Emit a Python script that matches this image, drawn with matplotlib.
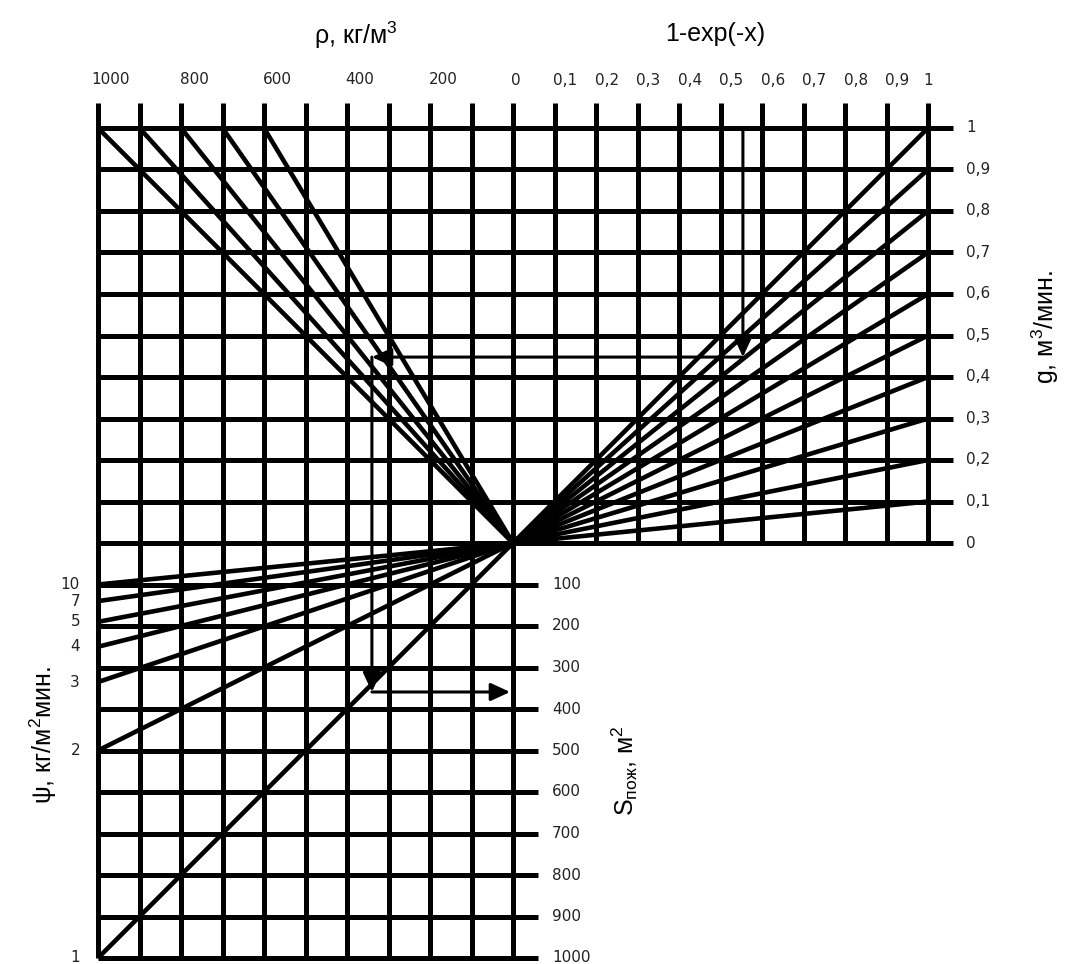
import matplotlib
matplotlib.use('Agg')
import matplotlib.pyplot as plt

plt.rcParams['font.family'] = ['Liberation Sans', 'DejaVu Sans']
plt.rcParams['mathtext.fontset'] = 'custom'
plt.rcParams['mathtext.rm'] = 'Liberation Sans'
plt.rcParams['mathtext.it'] = 'Liberation Sans:italic'
plt.rcParams['mathtext.bf'] = 'Liberation Sans:bold'

# ---------------- data ----------------
rho_ticks = [1000, 800, 600, 400, 200, 0]
rho_grid = [1000, 900, 800, 700, 600, 500, 400, 300, 200, 100, 0]
rho_lines = [1000, 900, 800, 700, 600]          # lines to g = 1

exp_grid = [0, 0.1, 0.2, 0.3, 0.4, 0.5, 0.6, 0.7, 0.8, 0.9, 1.0]
exp_labels = ['0', '0,1', '0,2', '0,3', '0,4', '0,5', '0,6', '0,7', '0,8', '0,9', '1']

g_grid = [0, 0.1, 0.2, 0.3, 0.4, 0.5, 0.6, 0.7, 0.8, 0.9, 1.0]
g_labels = ['0', '0,1', '0,2', '0,3', '0,4', '0,5', '0,6', '0,7', '0,8', '0,9', '1']
g_lines = [1.0, 0.9, 0.8, 0.7, 0.6, 0.5, 0.4, 0.3, 0.2, 0.1]   # lines to 1-exp(-x) = 1

S_grid = [100, 200, 300, 400, 500, 600, 700, 800, 900, 1000]
S_labels = ['100', '200', '300', '400', '500', '600', '700', '800', '900', '1000']

psi_labels = ['10', '7', '5', '4', '3', '2', '1']
psi_S = [100, 140, 190, 250, 335, 500, 1000]     # S at rho = 1000 edge

# worked example (arrows)
ex_exp = 0.554
ex_g = 0.448
ex_rho = 340
ex_S = 359

# ---------------- scales ----------------
def xr(r):   # density -> x
    return -r / 100.0

def xe(v):   # 1-exp(-x) -> x
    return v * 10.0

def yg(g):   # g -> y
    return g * 10.0

def ys(s):   # S -> y
    return -s / 100.0

CELL = 41.5
OX, OY = 513, 543
W, H = 1065, 964

def px2x(p):
    return (p - OX) / CELL

def py2y(p):
    return (OY - p) / CELL

fig = plt.figure(figsize=(W / 100, H / 100), dpi=100)
ax = fig.add_axes([0, 0, 1, 1])
ax.set_xlim(px2x(0), px2x(W))
ax.set_ylim(py2y(H), py2y(0))
ax.axis('off')

LW = 3.6
EXT = 0.6
kw = dict(color='black', lw=LW, solid_capstyle='butt', zorder=2)

# horizontal lines in upper half (g)
for g in g_grid:
    ax.plot([xr(1000), xe(1.0) + EXT], [yg(g), yg(g)], **kw)
# vertical lines on density side (continue to lower-left)
for r in rho_grid:
    ax.plot([xr(r), xr(r)], [ys(1000), yg(1.0) + EXT], **kw)
# vertical lines on 1-exp side
for v in exp_grid[1:]:
    ax.plot([xe(v), xe(v)], [yg(0), yg(1.0) + EXT], **kw)
# horizontal lines in lower-left (S)
for s in S_grid:
    ax.plot([xr(1000), EXT], [ys(s), ys(s)], **kw)

# radial lines
lkw = dict(color='black', lw=3.3, solid_capstyle='butt', zorder=3)
for r in rho_lines:
    ax.plot([xr(r), 0], [yg(1.0), 0], **lkw)
for g in g_lines:
    ax.plot([xe(1.0), 0], [yg(g), 0], **lkw)
for s in psi_S:
    ax.plot([xr(1000), 0], [ys(s), 0], **lkw)

# example arrows
aprops = dict(arrowstyle='-|>,head_length=0.65,head_width=0.3', lw=2.2,
              color='black', mutation_scale=18, shrinkA=0, shrinkB=0)
ax.annotate('', xy=(xe(ex_exp), yg(ex_g)), xytext=(xe(ex_exp), yg(1.0)), arrowprops=aprops, zorder=4)
ax.annotate('', xy=(xr(ex_rho), yg(ex_g)), xytext=(xe(ex_exp), yg(ex_g)), arrowprops=aprops, zorder=4)
ax.annotate('', xy=(xr(ex_rho), ys(ex_S)), xytext=(xr(ex_rho), yg(ex_g)), arrowprops=aprops, zorder=4)
ax.annotate('', xy=(-0.07, ys(ex_S)), xytext=(xr(ex_rho), ys(ex_S)), arrowprops=aprops, zorder=4)

# tick labels
tfont = dict(family=['DejaVu Sans'], fontsize=11, color='#222222')
for r in rho_ticks:
    if r == 0:
        continue  # shared "0" is drawn with the 1-exp(-x) scale
    ax.text(xr(r) + 13 / CELL, py2y(80), str(r), ha='center', va='center', **tfont)
for v, lab in zip(exp_grid, exp_labels):
    if v == 0:
        off = 3 / CELL
    elif v == 1.0:
        off = 0
    else:
        off = 11 / CELL
    ax.text(xe(v) + off, py2y(81), lab, ha='center', va='center', **tfont)
for g, lab in zip(g_grid, g_labels):
    ax.text(px2x(966), yg(g), lab, ha='left', va='center', **tfont)
for s, lab in zip(S_grid, S_labels):
    ax.text(px2x(552), ys(s), lab, ha='left', va='center', **tfont)
for s, lab in zip(psi_S, psi_labels):
    ax.text(px2x(80), ys(s), lab, ha='right', va='center', **tfont)

# axis titles
afont = dict(fontsize=18, color='black', ha='center', va='center')
ax.text(px2x(356), py2y(35), 'ρ, кг/м$^3$', **afont)
ax.text(px2x(715), py2y(34), '1-exp(-x)', **afont)
ax.text(px2x(1045), py2y(327), 'g, м$^3$/мин.', rotation=90, **afont)
ax.text(px2x(43), py2y(735), 'ψ, кг/м$^2$мин.', rotation=90, **afont)
ax.text(px2x(625), py2y(771), 'S$_{\\mathregular{пож}}$, м$^2$', rotation=90, **afont)

fig.savefig('out.png', dpi=100, facecolor='white')
